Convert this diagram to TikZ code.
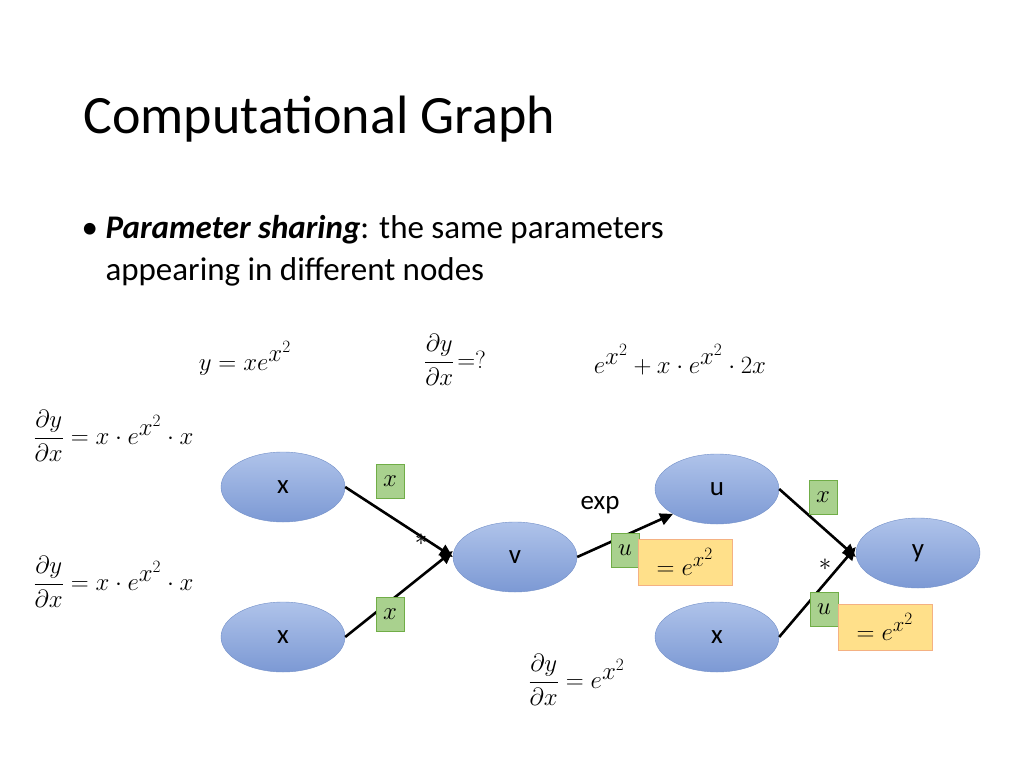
\documentclass[tikz,border=0pt]{standalone}
\usepackage{amsmath}
\usepackage{fontspec}
\setmainfont{Carlito}
\usetikzlibrary{arrows.meta,shapes.geometric}
\definecolor{nodeblue}{HTML}{8FAADC}
\definecolor{nodetop}{HTML}{AFC3EA}
\definecolor{nodebot}{HTML}{7C99D4}
\definecolor{nodeedge}{HTML}{7390C8}
\definecolor{tagfill}{HTML}{A9D18E}
\definecolor{tagedge}{HTML}{70AD47}
\definecolor{valfill}{HTML}{FFE08A}
\definecolor{valedge}{HTML}{F4B183}
\begin{document}
\begin{tikzpicture}[x=1pt,y=-1pt,
        op/.style={ellipse, draw=nodeedge, top color=nodetop, bottom color=nodebot, minimum width=124pt, minimum height=70pt, font=\fontsize{27}{32}\selectfont},
        tag/.style={rectangle, draw=tagedge, fill=tagfill, minimum width=28pt, minimum height=34pt, inner sep=1pt, font=\fontsize{32}{36}\selectfont},
        val/.style={rectangle, draw=valedge, fill=valfill, minimum width=94pt, minimum height=46pt, inner sep=2pt, font=\fontsize{32}{36}\selectfont},
        eq/.style={font=\fontsize{35}{42}\selectfont},
        flow/.style={-{Triangle[length=13pt,width=12pt]}, line width=2.6pt}
    ]
    \useasboundingbox (0,0) rectangle (1024,768);
    % heading and bullet
    \node[anchor=base west, font=\fontsize{54}{62}\selectfont] (title) at (80,133) {Computational Graph};
    \node[anchor=base west, font=\fontsize{33}{40}\selectfont] (bullet) at (78,238) {\textbullet};
    \node[anchor=base west, font=\fontsize{33}{40}\selectfont] (line1) at (102,238) {\textbf{\textit{Parameter sharing}}: the same parameters};
    \node[anchor=base west, font=\fontsize{33}{40}\selectfont] (line2) at (102,280) {appearing in different nodes};
    % formulas
    \node[eq] (fun) at (245,358) {$y=xe^{x^2}$};
    \node[eq] (ask) at (455,360) {$\dfrac{\partial y}{\partial x}\!=?$};
    \node[eq] (ans) at (680,360) {$e^{x^2}+x\cdot e^{x^2}\cdot 2x$};
    \node[eq, anchor=west] (top) at (30,436) {$\dfrac{\partial y}{\partial x}=x\cdot e^{x^2}\cdot x$};
    \node[eq, anchor=west] (mid) at (30,582) {$\dfrac{\partial y}{\partial x}=x\cdot e^{x^2}\cdot x$};
    \node[eq, anchor=west] (bot) at (525,680) {$\dfrac{\partial y}{\partial x}=e^{x^2}$};
    % graph
    \node[op] (xa) at (283,487) {x};
    \node[op] (xb) at (283,637) {x};
    \node[op] (v) at (515,557) {v};
    \node[op] (u) at (717,489) {u};
    \node[op] (xc) at (717,637) {x};
    \node[op] (y) at (918,553) {y};
    \draw[flow] (xa.east) -- (v.west);
    \draw[flow] (xb.east) -- ([yshift=6pt]v.west);
    \draw[flow] (v.east) -- (u.south west);
    \draw[flow] (u.east) -- ([yshift=-4pt]y.west);
    \draw[flow] (xc.east) -- ([yshift=6pt]y.west);
    \node[font=\fontsize{27}{32}\selectfont] (exp) at (600,505) {exp};
    \node[eq] (times1) at (421,540) {$*$};
    \node[eq] (times2) at (825,565) {$*$};
    % shared values
    \node[tag] (ta) at (390,481) {$x$};
    \node[tag] (tb) at (390,614) {$x$};
    \node[tag] (tc) at (625,550) {$u$};
    \node[tag] (td) at (823,497) {$x$};
    \node[tag] (te) at (824,609) {$u$};
    \node[val] (va) at (685,562) {$=e^{x^2}$};
    \node[val] (vb) at (885,627) {$=e^{x^2}$};
\end{tikzpicture}
\end{document}
